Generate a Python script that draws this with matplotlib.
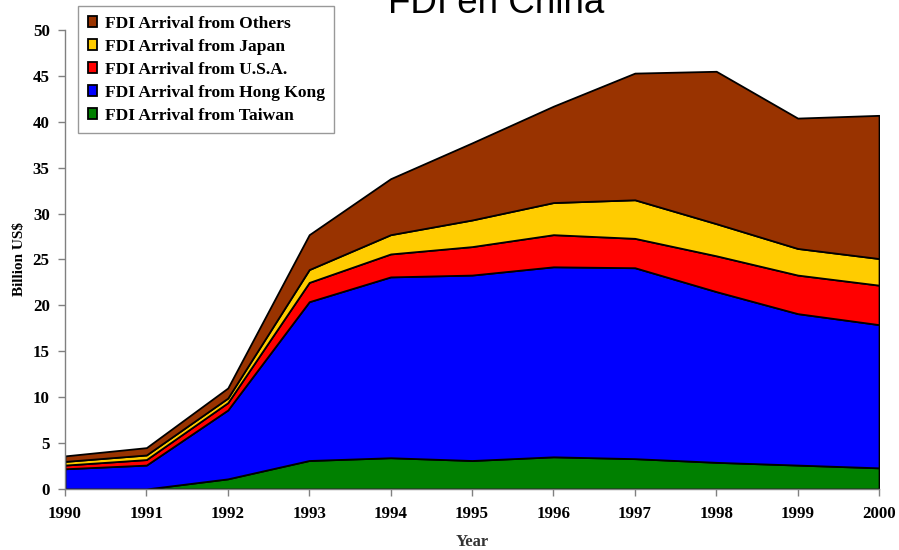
import matplotlib
matplotlib.use('Agg')
import matplotlib.pyplot as plt
import numpy as np

# FDI arrivals in China, billion US$
years = [1990, 1991, 1992, 1993, 1994, 1995, 1996, 1997, 1998, 1999, 2000]
taiwan = [0.0, 0.0, 1.1, 3.1, 3.4, 3.1, 3.5, 3.3, 2.9, 2.6, 2.3]
hong_kong = [2.2, 2.6, 7.5, 17.3, 19.7, 20.2, 20.7, 20.8, 18.6, 16.5, 15.6]
usa = [0.4, 0.6, 0.8, 2.1, 2.5, 3.1, 3.5, 3.2, 3.9, 4.2, 4.3]
japan = [0.4, 0.5, 0.5, 1.4, 2.1, 2.9, 3.5, 4.2, 3.5, 2.9, 2.9]
others = [0.6, 0.8, 1.1, 3.8, 6.1, 8.4, 10.5, 13.8, 16.6, 14.2, 15.6]

labels = ['FDI Arrival from Taiwan', 'FDI Arrival from Hong Kong',
          'FDI Arrival from U.S.A.', 'FDI Arrival from Japan',
          'FDI Arrival from Others']
colors = ['#008000', '#0000ff', '#ff0000', '#ffcc00', '#993300']

serif = 'Liberation Serif'

fig = plt.figure(figsize=(8.99, 5.5), dpi=100)
ax = fig.add_axes([0.0723, 0.111, 0.9055, 0.8345])

polys = ax.stackplot(years, taiwan, hong_kong, usa, japan, others,
                     labels=labels, colors=colors,
                     edgecolor='black', linewidth=1.3)

ax.set_xlim(1990, 2000)
ax.set_ylim(0, 50)
ax.set_xticks(years)
ax.set_yticks(np.arange(0, 51, 5))

for s in ['top', 'right']:
    ax.spines[s].set_visible(False)
for s in ['left', 'bottom']:
    ax.spines[s].set_color('#808080')
    ax.spines[s].set_linewidth(1.0)
ax.tick_params(axis='both', direction='out', length=5, color='#808080',
               width=1.0, labelsize=12.2, pad=6)
ax.tick_params(axis='x', pad=7)
for lab in ax.get_xticklabels() + ax.get_yticklabels():
    lab.set_fontfamily(serif)
    lab.set_fontweight('bold')

ax.set_xlabel('Year', fontfamily=serif, fontweight='bold', fontsize=12,
              labelpad=9, color='#333333')
ax.set_ylabel('Billion US$', fontfamily=serif, fontweight='bold', fontsize=11,
              labelpad=5)

handles, labs = ax.get_legend_handles_labels()
leg = ax.legend(handles[::-1], labs[::-1], loc='upper left',
                bbox_to_anchor=(0.0868, 0.989), bbox_transform=fig.transFigure,
                borderaxespad=0, fancybox=False, edgecolor='#999999',
                prop={'family': serif, 'weight': 'bold', 'size': 12.6},
                handlelength=0.55, handleheight=0.55, handletextpad=0.42,
                labelspacing=0.40, borderpad=0.55, framealpha=1)
leg.get_frame().set_linewidth(1.0)

fig.text(0.552, 0.976, 'FDI en China', ha='center', va='baseline',
         fontsize=26.5, fontfamily='Liberation Sans')

fig.savefig('out.png', dpi=100)
